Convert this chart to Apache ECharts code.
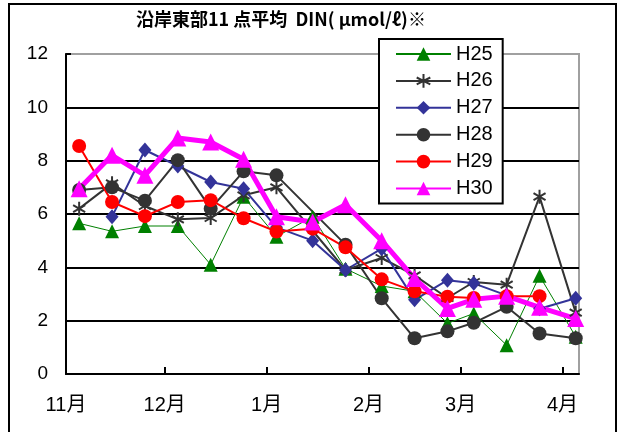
<!DOCTYPE html>
<html>
<head>
<meta charset="utf-8">
<script src="https://cdn.jsdelivr.net/npm/echarts@6/dist/echarts.min.js"></script>
<style>
  html, body { margin: 0; padding: 0; background: #fff; }
  #chart { width: 618px; height: 432px; }
</style>
</head>
<body>
<div id="chart"></div>
<script>
// sampling dates (roughly every 10 days) and month tick labels
const sampleDates = ['11/5', '11/15', '11/25', '12/5', '12/15', '12/25', '1/4', '1/15', '1/25', '2/5', '2/15', '2/25', '3/5', '3/15', '3/25', '4/5']
const tickMonths = [11, 12, 1, 2, 3, 4]
const monthLabels = ['11月', '12月', '1月', '2月', '3月', '4月']

const h25 = [5.65, 5.35, 5.55, 5.55, 4.1, 6.65, 5.15, 5.9, 3.95, 3.3, 3.1, 1.9, 2.27, 1.08, 3.68, 1.4]
const h26 = [6.2, 7.15, 6.3, 5.8, 5.85, 6.7, 7.0, null, 3.9, 4.35, 3.7, 2.85, 3.45, 3.35, 6.65, 2.3]
const h27 = [null, 5.9, 8.4, 7.8, 7.2, 6.95, 5.5, 5.0, 3.9, 4.7, 2.78, 3.52, 3.4, 2.95, 2.45, 2.84]
const h28 = [6.9, 7.0, 6.5, 8.02, 6.2, 7.6, 7.45, null, 4.85, 2.84, 1.34, 1.6, 1.92, 2.52, 1.52, 1.34]
const h29 = [8.55, 6.45, 5.92, 6.45, 6.52, 5.84, 5.34, 5.45, 4.75, 3.55, 3.1, 2.9, 2.85, 2.92, 2.92, null]
const h30 = [6.95, 8.2, 7.45, 8.85, 8.7, 8.05, 5.9, 5.7, 6.35, 5.0, 3.58, 2.46, 2.8, 2.92, 2.5, 2.08]

// daily category axis, 11/1 .. 4/6
const days = []
for (let i = 0; i <= 156; i++) {
  const d = new Date(2018, 10, 1 + i)
  days.push((d.getMonth() + 1) + '/' + d.getDate())
}
const isMonthStart = (idx, v) => v.endsWith('/1')

const pairs = vals => sampleDates.map((d, i) => [d, vals[i]])

const asterisk = 'path://M5,0L5,10M0.7,2.5L9.3,7.5M0.7,7.5L9.3,2.5'
const font = '"Liberation Sans", "Noto Sans CJK JP", sans-serif'

const mk = (name, vals, color, width, symbol, size, extra) => Object.assign({
  name,
  type: 'line',
  data: pairs(vals),
  symbol,
  symbolSize: size,
  showAllSymbol: true,
  connectNulls: true,
  lineStyle: { color, width },
  itemStyle: { color },
  emphasis: { disabled: true }
}, extra || {})

const chart = echarts.init(document.getElementById('chart'), null, { renderer: 'canvas' })
chart.setOption({
  animation: false,
  backgroundColor: '#fff',
  title: {
    text: '沿岸東部11 点平均  DIN( μmol/ℓ)※',
    left: 136,
    top: 10,
    padding: 0,
    textStyle: { fontFamily: '"Noto Sans CJK JP", sans-serif', fontSize: 18, fontWeight: 'bold', color: '#000' }
  },
  graphic: [{
    type: 'rect',
    shape: { x: 9, y: 4, width: 607, height: 450 },
    style: { fill: 'none', stroke: '#000', lineWidth: 2 },
    z: 0
  }],
  grid: {
    left: 66, right: 39, top: 54, bottom: 58,
    show: true,
    borderColor: '#a0a0a0',
    borderWidth: 2,
    backgroundColor: '#fff'
  },
  legend: {
    orient: 'vertical',
    left: 379,
    top: 39,
    padding: [5, 10, 5, 16],
    itemWidth: 55,
    itemHeight: 17,
    itemGap: 6.9,
    backgroundColor: '#fff',
    borderColor: '#000',
    borderWidth: 2,
    textStyle: { fontFamily: font, fontSize: 20, lineHeight: 17, color: '#000' },
    data: ['H25', 'H26', 'H27', 'H28', 'H29', 'H30']
  },
  xAxis: {
    type: 'category',
    boundaryGap: false,
    data: days,
    axisLine: { lineStyle: { color: '#000', width: 2 } },
    axisTick: { interval: isMonthStart, inside: true, length: 7, lineStyle: { color: '#000', width: 2 } },
    axisLabel: {
      interval: isMonthStart,
      margin: 21,
      color: '#000',
      fontFamily: font,
      fontSize: 20,
      formatter: v => monthLabels[tickMonths.indexOf(+v.split('/')[0])]
    },
    splitLine: { show: false }
  },
  yAxis: {
    type: 'value',
    min: 0,
    max: 12,
    interval: 2,
    axisLine: { show: true, lineStyle: { color: '#000', width: 2 } },
    axisTick: { show: true, inside: true, length: 5, lineStyle: { color: '#000', width: 2 } },
    axisLabel: { margin: 18, color: '#000', fontFamily: font, fontSize: 19 },
    splitLine: { showMinLine: false, showMaxLine: false, lineStyle: { color: '#000', width: 2 } }
  },
  series: [
    mk('H25', h25, '#008000', 1, 'triangle', 14),
    mk('H26', h26, '#333333', 2, asterisk, 14, {
      symbolKeepAspect: true,
      itemStyle: { color: '#333333', borderColor: '#333333', borderWidth: 2 }
    }),
    mk('H27', h27, '#333399', 2, 'diamond', [13, 15]),
    mk('H28', h28, '#333333', 2, 'circle', 14),
    mk('H29', h29, '#ff0000', 2, 'circle', 14),
    mk('H30', h30, '#ff00ff', 5, 'triangle', 17)
  ]
})
</script>
</body>
</html>
